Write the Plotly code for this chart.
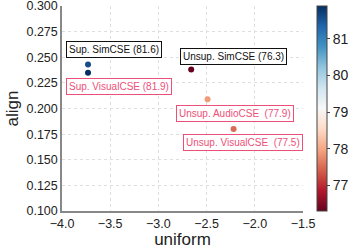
import plotly.graph_objects as go
import plotly.colors as pc

names = ["Sup. SimCSE", "Sup. VisualCSE", "Unsup. SimCSE", "Unsup. AudioCSE", "Unsup. VisualCSE"]
uniform = [-3.73, -3.73, -2.66, -2.49, -2.22]
align = [0.243, 0.235, 0.238, 0.209, 0.180]
score = [81.6, 81.9, 76.3, 77.9, 77.5]
label_text = ["Sup. SimCSE (81.6)", "Sup. VisualCSE (81.9)", "Unsup. SimCSE (76.3)",
              "Unsup. AudioCSE  (77.9)", "Unsup. VisualCSE  (77.5)"]
label_x = [-3.46, -3.41, -2.226, -2.209, -2.122]
label_y = [0.258, 0.221, 0.251, 0.1956, 0.1667]
label_color = ["#111111", "#ee4f78", "#111111", "#ee4f78", "#ee4f78"]

x_ticks = [-4.0, -3.5, -3.0, -2.5, -2.0, -1.5]
y_ticks = [0.100, 0.125, 0.150, 0.175, 0.200, 0.225, 0.250, 0.275, 0.300]
cb_ticks = [77, 78, 79, 80, 81]

font = "Liberation Sans, Arial, sans-serif"

fig = go.Figure()
fig.add_trace(go.Scatter(
    x=uniform, y=align, mode="markers",
    marker=dict(size=6, color=score, cmin=76.3, cmax=81.9,
                colorscale=pc.sequential.RdBu, showscale=True,
                colorbar=dict(x=1.058, xanchor="left", y=0.5, yanchor="middle",
                              len=1.0, lenmode="fraction", thickness=10,
                              outlinewidth=1, outlinecolor="#444",
                              tickvals=cb_ticks, ticks="outside", ticklen=3,
                              tickcolor="#444", tickfont=dict(size=14, color="#222", family=font),
                              xpad=0, ypad=0)),
    showlegend=False, hoverinfo="skip"))

for t, x, y, c in zip(label_text, label_x, label_y, label_color):
    fig.add_annotation(x=x, y=y, text=t, showarrow=False,
                       font=dict(size=10, color=c, family=font),
                       bordercolor=c, borderwidth=1, borderpad=2,
                       bgcolor="white")

fig.update_layout(
    width=357, height=249,
    margin=dict(l=62, r=54, t=6, b=38, autoexpand=False),
    plot_bgcolor="white", paper_bgcolor="white",
    font=dict(family=font, color="#222"),
    xaxis=dict(range=[-4.0, -1.5], tickvals=x_ticks, tickformat=".1f",
               showgrid=True, gridcolor="#dedede", griddash="dot", gridwidth=1,
               showline=True, linecolor="#888", linewidth=1.5, zeroline=False,
               ticks="", tickfont=dict(size=12.5, color="#222"), ticklabeloverflow="allow",
               title=dict(text="uniform", font=dict(size=17, color="#222"), standoff=2)),
    yaxis=dict(range=[0.100, 0.300], tickvals=y_ticks, tickformat=".3f",
               showgrid=True, gridcolor="#dedede", griddash="dot", gridwidth=1,
               showline=True, linecolor="#888", linewidth=1.5, zeroline=False,
               ticks="", tickfont=dict(size=12.5, color="#222"), ticklabeloverflow="allow",
               title=dict(text="align", font=dict(size=17, color="#222"), standoff=4)),
)

fig.write_html("out.html", config={"displayModeBar": False},
               post_script="document.body.style.margin='0';document.body.style.overflow='hidden';")
